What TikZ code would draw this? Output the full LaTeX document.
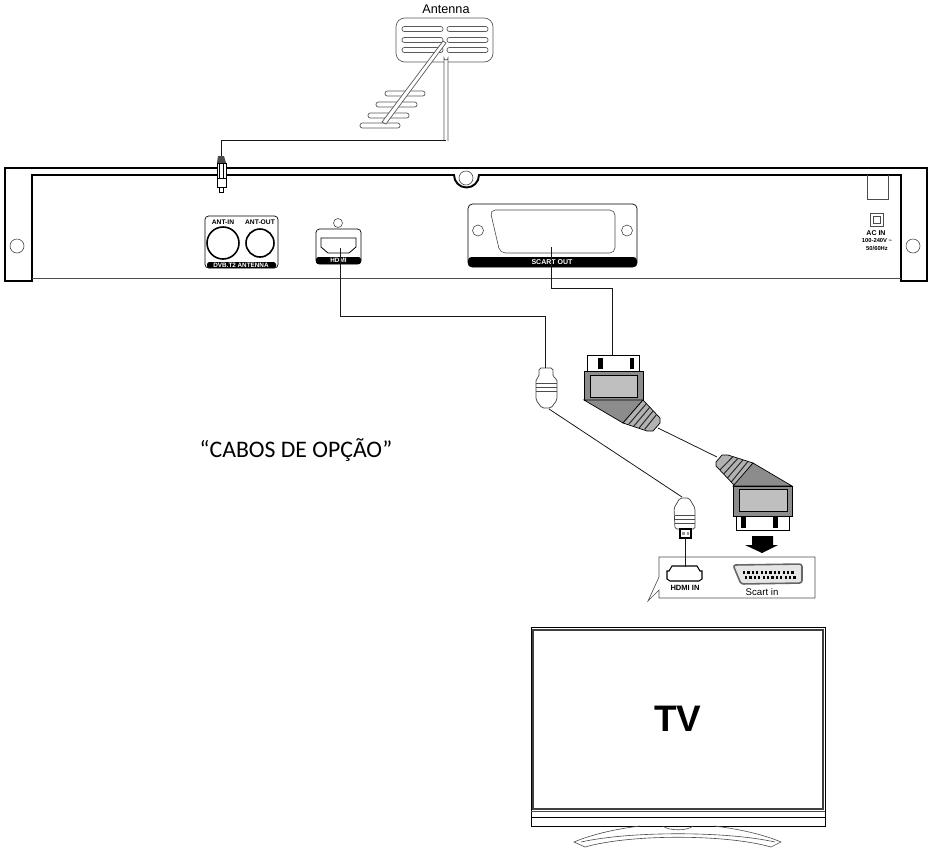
\documentclass[tikz,border=0pt]{standalone}
\usepackage{fontspec}
\setmainfont{Liberation Sans}
\newfontfamily\calibrifont{Carlito}
\tikzset{
  thinline/.style={line width=0.35pt, draw=black!70},
  cable/.style={line width=0.45pt, draw=black!90},
  heavy/.style={line width=1.1pt},
  bandtext/.style={text=white, font=\bfseries\fontsize{3.6}{4}\selectfont, inner sep=0pt},
  porttext/.style={font=\bfseries\fontsize{3.8}{4}\selectfont, inner sep=0pt},
  antbar/.style={line width=0.4pt, draw=black!65, fill=white, rounded corners=1.3pt},
  plugline/.style={line width=0.4pt, draw=black!75},
  stripe/.style={line width=0.55pt, draw=black!85},
}
\begin{document}
\begin{tikzpicture}[x=0.2mm, y=-0.2mm]
\useasboundingbox (0,0) rectangle (931,849);

% antenna
\node[inner sep=0pt, font=\fontsize{7.2}{8}\selectfont] (antlabel) at (446,9) {Antenna};
\draw[line width=0.4pt, draw=black!65, rounded corners=5pt] (396,18) rectangle (493,62);
\foreach \y in {29,40,50} {
  \draw[antbar] (402,\y-2.5) rectangle (443,\y+2.5);
  \draw[antbar] (447,\y-2.5) rectangle (488,\y+2.5);
}
\draw[antbar] (385,91) rectangle (425,96);
\draw[antbar] (376,102) rectangle (417,107);
\draw[antbar] (368,113) rectangle (409,118);
\draw[antbar] (360,123) rectangle (400,128);
\draw[line width=0.4pt, draw=black!65, fill=white] (443,41) -- (446,43) -- (386,124) -- (382,122) -- cycle;
\draw[line width=0.4pt, draw=black!65, fill=white] (444,141) -- (444,58) arc[start angle=180, end angle=360, x radius=2, y radius=-2] -- (448,141);

% back panel
\draw[heavy] (32,281) -- (5,281) -- (5,168) -- (927,168) -- (927,281) -- (901,281) -- (901,175) -- (479,175)
  arc[start angle=0, end angle=180, radius=12.5] -- (32,175) -- cycle;
\draw[thinline] (32,278) -- (901,278);
\draw[thinline] (17,246) circle[radius=7];
\draw[thinline] (913,246) circle[radius=7];
\draw[thinline] (466,178) circle[radius=7];

% antenna ports
\draw[line width=0.4pt, rounded corners=2pt] (205,216) rectangle (278,268);
\fill[black, rounded corners=1pt] (207,262) rectangle (276,268);
\node[bandtext] (dvblabel) at (241,265) {DVB.T2 ANTENNA};
\node[porttext] (antinlabel) at (223,222) {ANT-IN};
\node[porttext] (antoutlabel) at (260,222) {ANT-OUT};
\draw[line width=0.9pt] (223,243) circle[radius=16];
\draw[line width=0.9pt] (260,243) circle[radius=14];

% hdmi port
\draw[thinline] (338,223) circle[radius=4.5];
\draw[line width=0.4pt, rounded corners=2pt] (316,229) rectangle (361,264);
\fill[black, rounded corners=1pt] (316,257) rectangle (361,264);
\node[bandtext] (hdmilabel) at (338.5,260.5) {HDMI};
\draw[line width=0.45pt] (321,238) -- (356,238) -- (356,247) -- (349,253) -- (328,253) -- (321,247) -- cycle;

% scart port
\draw[line width=0.4pt, rounded corners=2.5pt] (468,204) rectangle (637,267);
\fill[black, rounded corners=2pt] (468,257) rectangle (637,267);
\node[bandtext, font=\bfseries\fontsize{4}{4}\selectfont] (scartlabel) at (552,262) {SCART OUT};
\draw[thinline, rounded corners=3pt] (490,210) -- (615,210) -- (615,253) -- (500,253) -- cycle;
\draw[thinline] (478,230.5) circle[radius=5.5];
\draw[thinline] (627,230.5) circle[radius=5.5];

% power
\draw[thinline] (867,175) -- (867,199) -- (888,199) -- (888,175);
\draw[thinline] (870,213) rectangle (883,226);
\draw[thinline] (873,216) rectangle (880,223);
\node[porttext, font=\bfseries\fontsize{4}{4}\selectfont] (aclabel) at (876,233) {AC IN};
\node[porttext, font=\bfseries\fontsize{3.3}{4}\selectfont] (voltlabel) at (877,240.5) {100-240V \textasciitilde};
\node[porttext, font=\bfseries\fontsize{3.3}{4}\selectfont] (hzlabel) at (877,248) {50/60Hz};

% rca plug
\fill[black!70] (218,156) -- (224,156) -- (226,163) -- (217,163) -- cycle;
\draw[line width=0.5pt, fill=white] (217,163) rectangle (226,187);
\draw[line width=0.4pt] (219.5,163) -- (219.5,178);
\draw[line width=0.4pt] (223.5,163) -- (223.5,178);
\draw[line width=0.5pt] (217,178) -- (226,178);
\draw[line width=0.4pt, fill=white] (219.5,187) rectangle (223.5,192);

% upper hdmi plug
\draw[plugline, fill=white, rounded corners=1pt] (539,368) -- (553,368) -- (553,377) -- (557,379)
  -- (557,400) -- (551,408) -- (542,408) -- (536,400) -- (536,379) -- (539,377) -- cycle;
\foreach \y in {383,387,391} \draw[thinline] (536,\y) -- (557,\y);

% upper scart plug
\draw[line width=0.45pt, fill=white] (587,355) rectangle (639,371);
\fill[black] (598,358) rectangle (603,369);
\fill[black] (630,358) rectangle (634,369);
\draw[line width=0.55pt, fill=black!45] (584,371) rectangle (643,400);
\draw[line width=0.55pt, fill=black!25] (590,375) rectangle (637,397);
\draw[line width=0.4pt, fill=black!45] (584,400) -- (643,400) -- (623,423) -- cycle;
\draw[line width=0.4pt, fill=black!30] (643,400) -- (660,418) -- (660,423) -- (653,431) -- (647,431) -- (623,423) -- cycle;
\foreach \xa/\ya/\xb/\yb in {646.4/403.6/628.4/424.6, 649.8/407.2/633.8/426.2, 653.2/410.8/639.2/427.8, 656.6/414.4/644.6/429.4}
  \draw[stripe] (\xa,\ya) -- (\xb,\yb);

% lower hdmi plug
\draw[plugline, fill=white, rounded corners=1pt] (680,498) -- (689,498) -- (695,508) -- (695,529) -- (675,529) -- (674,508) -- cycle;
\foreach \y in {515,519,523} \draw[thinline] (674.5,\y) -- (695,\y);
\draw[line width=0.6pt, fill=white] (680,529) rectangle (691,538);
\fill[black!40] (682,532) rectangle (684.5,535);
\fill[black!40] (686.5,532) rectangle (689,535);

% lower scart plug
\draw[line width=0.4pt, fill=black!30] (716,462) -- (722,455) -- (728,455) -- (753,463) -- (735,486) -- (716,466) -- cycle;
\foreach \xa/\ya/\xb/\yb in {748/461.4/731.2/482, 743/459.8/727.4/478, 738/458.2/723.6/474, 733/456.6/719.8/470}
  \draw[stripe] (\xa,\ya) -- (\xb,\yb);
\draw[line width=0.4pt, fill=black!45] (753,463) -- (792,486) -- (733,486) -- cycle;
\draw[line width=0.55pt, fill=black!45] (733,486) rectangle (792,516);
\draw[line width=0.55pt, fill=black!25] (739,489) rectangle (787,511);
\draw[line width=0.45pt, fill=white] (736,516) rectangle (789,530);
\fill[black] (741,517) rectangle (746,528);
\fill[black] (773,517) rectangle (778,528);
\fill[black] (752,536) -- (773,536) -- (773,545) -- (778,545) -- (762,553) -- (745,545) -- (752,545) -- cycle;

% tv inputs
\draw[thinline] (659,557) -- (815,557) -- (815,598) -- (659,598) -- (659,590) -- (648,601) -- (659,577) -- cycle;
\draw[line width=0.6pt, fill=white] (667,571) -- (669,571) -- (672,566) -- (697,566) -- (700,571) -- (702,571) -- (702,579) -- (699,581) -- (670,581) -- (667,579) -- cycle;
\node[porttext, font=\bfseries\fontsize{4.3}{5}\selectfont] (hdmiinlabel) at (685,587.5) {HDMI IN};
\node[inner sep=0pt, font=\fontsize{5.5}{6}\selectfont] (scartinlabel) at (762,592) {Scart\ in};
\draw[line width=0.9pt, draw=black!60, fill=black!10, rounded corners=1.5pt] (733,565) -- (802,564) -- (802,583) -- (741,584) -- cycle;
\foreach \i in {0,...,11} {
  \fill[black] (743+\i*4.4,570.5) rectangle +(2.2,3);
  \fill[black] (745+\i*4.4,575.5) rectangle +(2.2,3);
}

% tv set
\draw[line width=0.5pt, fill=white] (531,627) rectangle (825,826);
\draw[line width=1pt, draw=black!75] (533,630) rectangle (823,809);
\draw[thinline] (531,811) -- (825,811);
\draw[line width=0.5pt] (531,817) -- (825,817);
\node[inner sep=0pt, font=\bfseries\fontsize{21}{22}\selectfont] (tvlabel) at (678,719) {TV};
\draw[thinline] (663,826) .. controls (668,831) and (688,831) .. (693,826);
\draw[thinline] (640,826) .. controls (615,829) and (590,835) .. (574,842) -- (585,847)
  .. controls (630,834) and (726,834) .. (771,847) -- (781,842) .. controls (765,835) and (740,829) .. (714,826);
\draw[thinline] (581,842) .. controls (630,831) and (726,831) .. (775,842);

% cables
\coordinate (antdrop) at (446,140);
\coordinate (rcatop) at (221,156);
\coordinate (hdmiout) at (340,248);
\coordinate (hdmibend) at (340,316);
\coordinate (hdmitop) at (545,368);
\coordinate (hdmibottom) at (549,409);
\coordinate (hdmitvtop) at (682,497);
\coordinate (hdmitv) at (685,538);
\coordinate (hdmiin) at (685,567);
\coordinate (scartout) at (551,247);
\coordinate (scartbend) at (551,288);
\coordinate (scarttop) at (612,355);
\coordinate (scartend) at (658,428);
\coordinate (scartstart) at (717,457);
\draw[cable] (antdrop) -| (rcatop);
\draw[cable] (hdmiout) -- (hdmibend) -| (hdmitop);
\draw[cable] (hdmibottom) -- (hdmitvtop);
\draw[cable] (hdmitv) -- (hdmiin);
\draw[cable] (scartout) -- (scartbend) -| (scarttop);
\draw[cable] (scartend) -- (scartstart);

\node[inner sep=0pt, font=\calibrifont\fontsize{13.5}{15}\selectfont] (optlabel) at (296,450) {“CABOS DE OPÇÃO”};
\end{tikzpicture}
\end{document}
